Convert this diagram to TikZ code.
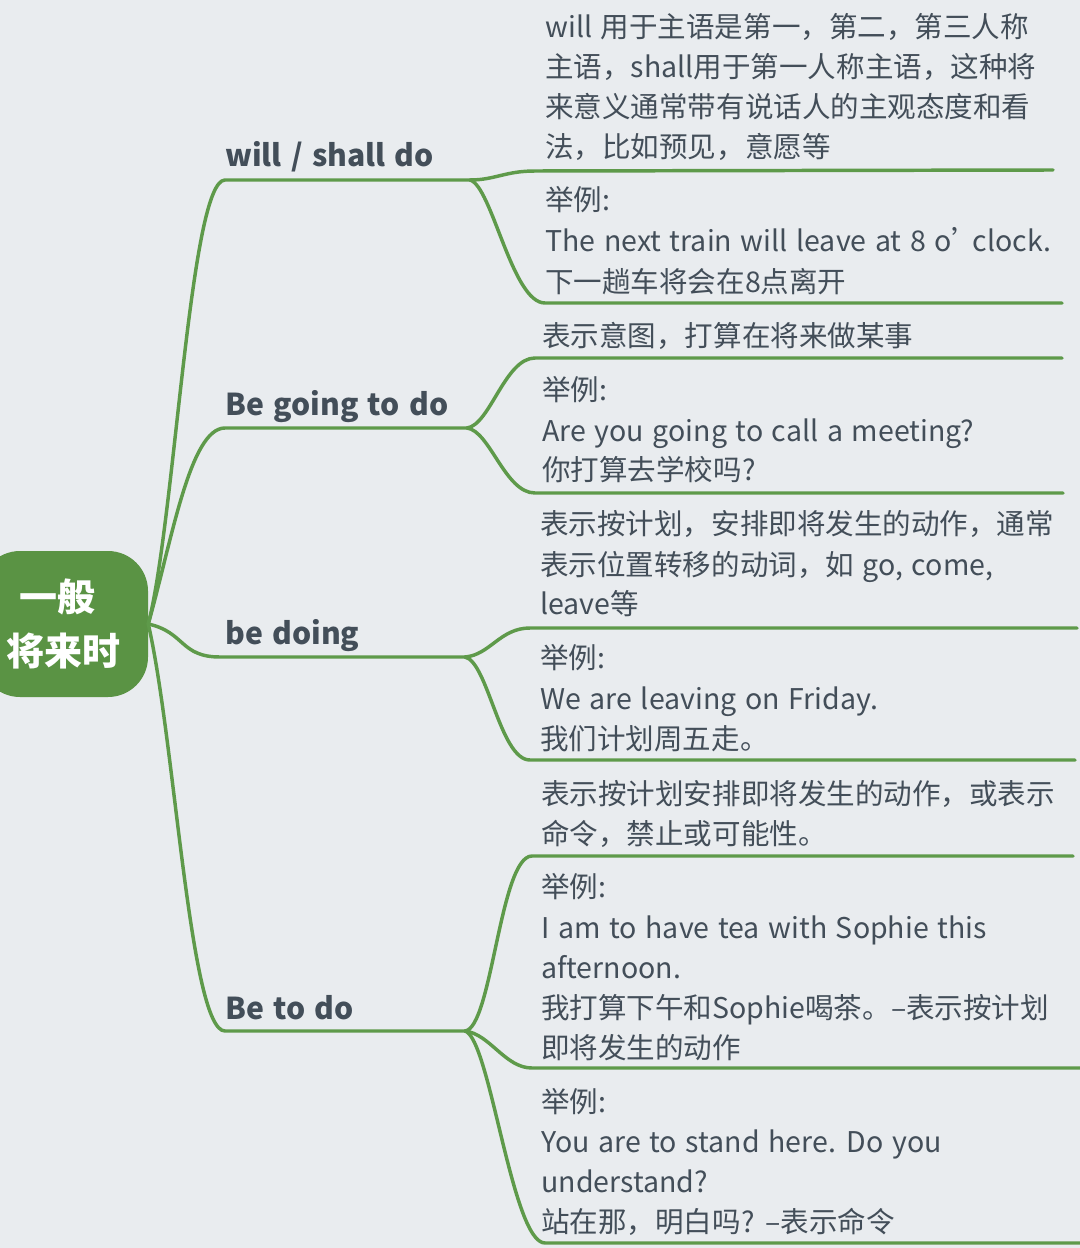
\documentclass[tikz,border=0pt]{standalone}
\usepackage{fontspec}
\setmainfont{Noto Sans CJK SC}[WordSpace=1.35]
\definecolor{bgc}{HTML}{E9ECEF}
\definecolor{lg}{HTML}{5E9A4A}
\definecolor{rootg}{HTML}{5A9344}
\definecolor{txt}{HTML}{434E59}
\begin{document}
\begin{tikzpicture}[x=0.75pt,y=-0.75pt,
  leaf/.style={anchor=base west, inner sep=0pt, text=txt, font=\fontsize{21.4}{21.4}\selectfont},
  lbl/.style={anchor=base west, inner sep=0pt, text=txt, font=\fontsize{22.6}{22.6}\selectfont\bfseries},
  conn/.style={draw=lg, line width=2.6pt, line cap=round},
  rootbox/.style={fill=rootg, rounded corners=30pt, minimum width=126pt, minimum height=109.5pt,
    text=white, align=center, inner sep=0pt, font=\fontsize{28.5}{40}\selectfont\bfseries}]
\useasboundingbox (0,0) rectangle (1080,1248);
\clip (0,0) rectangle (1080,1248);
\fill[bgc] (0,0) rectangle (1080,1248);

% root
\node[rootbox] (root) at (64,624) {一般\hspace*{10pt}\\将来时};

% branch coordinates
\coordinate (b1a) at (225,180); \coordinate (b1b) at (470,180);
\coordinate (b2a) at (225,428); \coordinate (b2b) at (467,428);
\coordinate (b3a) at (220,657); \coordinate (b3b) at (465,657);
\coordinate (b4a) at (225,1031); \coordinate (b4b) at (465,1031);

\draw[conn] (root.east) .. controls (175,520) and (190,180) .. (b1a) -- (b1b);
\draw[conn] (root.east) .. controls (172,540) and (190,428) .. (b2a) -- (b2b);
\draw[conn] (root.east) .. controls (185,632) and (180,657) .. (b3a) -- (b3b);
\draw[conn] (root.east) .. controls (175,740) and (190,1031) .. (b4a) -- (b4b);

\node[lbl] (n1) at (225,167) {will / shall do};
\node[lbl] (n2) at (225,415) {Be going to do};
\node[lbl] (n3) at (225,644) {be doing};
\node[lbl] (n4) at (225,1019) {Be to do};

% leaf underline coordinates
\coordinate (l11a) at (535,171); \coordinate (l11b) at (1053,170);
\coordinate (l12a) at (545,303); \coordinate (l12b) at (1062,303);
\coordinate (l21a) at (535,358); \coordinate (l21b) at (1062,358);
\coordinate (l22a) at (535,493); \coordinate (l22b) at (1063,493);
\coordinate (l31a) at (530,628); \coordinate (l31b) at (1077,628);
\coordinate (l32a) at (530,760); \coordinate (l32b) at (1075,760);
\coordinate (l41a) at (532,856); \coordinate (l41b) at (1073,856);
\coordinate (l42a) at (532,1068); \coordinate (l42b) at (1080,1068);
\coordinate (l43a) at (545,1243); \coordinate (l43b) at (1080,1243);

\draw[conn] (b1b) .. controls (495,180) and (505,171) .. (l11a) -- (l11b);
\draw[conn] (b1b) .. controls (492,186) and (512,303) .. (l12a) -- (l12b);
\draw[conn] (b2b) .. controls (490,425) and (505,358) .. (l21a) -- (l21b);
\draw[conn] (b2b) .. controls (490,431) and (505,493) .. (l22a) -- (l22b);
\draw[conn] (b3b) .. controls (490,655) and (500,628) .. (l31a) -- (l31b);
\draw[conn] (b3b) .. controls (488,662) and (500,760) .. (l32a) -- (l32b);
\draw[conn] (b4b) .. controls (492,1028) and (500,856) .. (l41a) -- (l41b);
\draw[conn] (b4b) .. controls (490,1034) and (505,1068) .. (l42a) -- (l42b);
\draw[conn] (b4b) .. controls (490,1038) and (512,1243) .. (l43a) -- (l43b);

% leaf texts
\node[leaf] (t1) at (545,38) {will 用于主语是第一，第二，第三人称};
\node[leaf] (t2) at (545,78) {主语，shall用于第一人称主语，这种将};
\node[leaf] (t3) at (545,118) {来意义通常带有说话人的主观态度和看};
\node[leaf] (t4) at (545,158) {法，比如预见，意愿等};
\node[leaf] (t5) at (545,211) {举例:};
\node[leaf] (t6) at (545,252) {The next train will leave at 8 o’\kern-6pt clock.};
\node[leaf] (t7) at (545,292) {下一趟车将会在8点离开};

\node[leaf] (t8) at (542,346) {表示意图，打算在将来做某事};
\node[leaf] (t9) at (542,400) {举例:};
\node[leaf] (t10) at (542,441) {Are you going to call a meeting?};
\node[leaf] (t11) at (542,480) {你打算去学校吗?};

\node[leaf] (t12) at (540,534) {表示按计划，安排即将发生的动作，通常};
\node[leaf] (t13) at (540,575) {表示位置转移的动词，如 go, come,};
\node[leaf] (t14) at (540,614) {leave等};
\node[leaf] (t15) at (540,668) {举例:};
\node[leaf] (t16) at (540,709) {We are leaving on Friday.};
\node[leaf] (t17) at (540,749) {我们计划周五走。};

\node[leaf] (t18) at (541,804) {表示按计划安排即将发生的动作，或表示};
\node[leaf] (t19) at (541,844) {命令，禁止或可能性。};
\node[leaf] (t20) at (541,897) {举例:};
\node[leaf] (t21) at (541,938) {I am to have tea with Sophie this};
\node[leaf] (t22) at (541,978) {afternoon.};
\node[leaf] (t23) at (541,1018) {我打算下午和Sophie喝茶。–表示按计划};
\node[leaf] (t24) at (541,1058) {即将发生的动作};
\node[leaf] (t25) at (541,1112) {举例:};
\node[leaf] (t26) at (541,1152) {You are to stand here. Do you};
\node[leaf] (t27) at (541,1192) {understand?};
\node[leaf] (t28) at (541,1232) {站在那，明白吗? –表示命令};
\end{tikzpicture}
\end{document}
